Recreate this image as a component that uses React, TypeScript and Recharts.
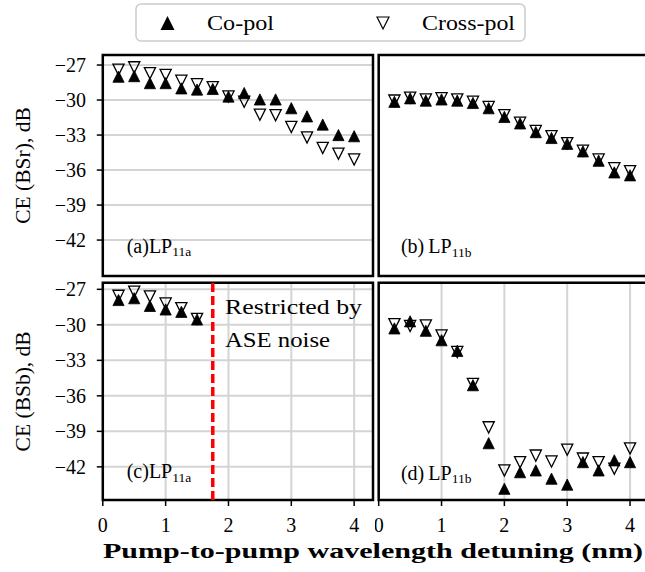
import {
  ScatterChart,
  Scatter,
  XAxis,
  YAxis,
  CartesianGrid,
  ReferenceArea,
  ReferenceLine,
  ReferenceDot,
} from "recharts";

// pump-to-pump wavelength detuning (nm)
const detuning = [0.25, 0.5, 0.75, 1, 1.25, 1.5, 1.75, 2, 2.25, 2.5, 2.75, 3, 3.25, 3.5, 3.75, 4];

// CE (BSr), dB
const bsrLP11aCo = [-28.0, -27.95, -28.55, -28.55, -29.0, -29.1, -29.05, -29.7, -29.4, -29.95, -29.95, -30.7, -31.4, -32.1, -33.0, -33.1];
const bsrLP11aCross = [-27.4, -27.2, -27.7, -27.85, -28.35, -28.65, -28.9, -29.7, -30.15, -31.25, -31.3, -32.3, -33.2, -34.1, -34.6, -35.1];
const bsrLP11bCo = [-30.15, -29.85, -30.05, -29.95, -30.05, -30.25, -30.7, -31.45, -32.0, -32.75, -33.25, -33.75, -34.4, -35.2, -36.2, -36.45];
const bsrLP11bCross = [-30.05, -29.8, -29.95, -29.85, -29.95, -30.15, -30.6, -31.3, -31.95, -32.65, -33.1, -33.7, -34.35, -35.1, -35.85, -36.1];

// CE (BSb), dB
const bsbLP11aCo = [-27.9, -27.75, -28.4, -28.7, -28.9, -29.55];
const bsbLP11aCross = [-27.55, -27.2, -27.6, -28.2, -28.6, -29.5];
const bsbLP11bCo = [-30.3, -29.7, -30.5, -31.3, -32.2, -35.1, -40.0, -43.85, -42.45, -42.3, -43.0, -43.5, -41.6, -42.3, -41.45, -41.6];
const bsbLP11bCross = [-29.95, -30.1, -30.05, -30.9, -32.3, -35.0, -38.66, -42.3, -41.6, -41.05, -41.55, -40.55, -41.3, -41.6, -42.15, -40.45];

const xTicks = [0, 1, 2, 3, 4];
const yTicks = [-42, -39, -36, -33, -30, -27];
const aseLimit = 1.75;

const SERIF = '"Liberation Serif", "Times New Roman", serif';
const X_MAX = 4.3;

const toPoints = (vals: number[]) => vals.map((y, i) => ({ x: detuning[i], y }));
const minus = (v: number) => String(v).replace("-", "\u2212");

function TriUp(props: any) {
  const { cx, cy } = props;
  if (cx == null || cy == null) return null;
  const s = 5.6;
  return (
    <polygon
      points={`${cx},${cy - s} ${cx - s},${cy + s} ${cx + s},${cy + s}`}
      fill="#000"
      stroke="#000"
      strokeWidth={0.8}
    />
  );
}

function TriDown(props: any) {
  const { cx, cy } = props;
  if (cx == null || cy == null) return null;
  const s = 5.6;
  return (
    <polygon
      points={`${cx - s},${cy - s} ${cx + s},${cy - s} ${cx},${cy + s}`}
      fill="none"
      stroke="#000"
      strokeWidth={1.3}
    />
  );
}

function tagShape(letter: string, sub: string, gap: boolean) {
  return (p: any) => (
    <text x={p.cx} y={p.cy} fontFamily={SERIF} fontSize={20} fill="#000">
      ({letter}){gap ? "\u2009" : ""}LP
      <tspan fontSize={13.5} dy={3.5}>
        {sub}
      </tspan>
    </text>
  );
}

interface PanelProps {
  left: number;
  top: number;
  width: number;
  height: number;
  margin: { top: number; right: number; bottom: number; left: number };
  yDomain: [number, number];
  co: number[];
  cross: number[];
  leftCol: boolean;
  bottomRow: boolean;
  yLabel?: string;
  tag: { x: number; y: number; letter: string; sub: string };
  children?: any;
}

function Panel({
  left,
  top,
  width,
  height,
  margin,
  yDomain,
  co,
  cross,
  leftCol,
  bottomRow,
  yLabel,
  tag,
  children,
}: PanelProps) {
  const tickStyle = { fill: "#000", fontSize: 20, fontFamily: SERIF };
  return (
    <div style={{ position: "absolute", left, top }}>
      <ScatterChart width={width} height={height} margin={margin}>
        <CartesianGrid stroke="#d4d4d4" strokeWidth={2} />
        <XAxis
          type="number"
          dataKey="x"
          domain={[0, X_MAX]}
          ticks={xTicks}
          interval={0}
          allowDataOverflow
          axisLine={false}
          tickSize={6}
          tickMargin={12}
          tickLine={{ stroke: "#000", strokeWidth: 1.5 }}
          tick={bottomRow ? tickStyle : false}
          height={bottomRow ? 40 : 14}
        />
        <YAxis
          type="number"
          dataKey="y"
          domain={yDomain}
          ticks={yTicks}
          interval={0}
          allowDataOverflow
          axisLine={false}
          width={leftCol ? 102.8 : 1}
          tickSize={6}
          tickMargin={10.8}
          tickLine={leftCol ? { stroke: "#000", strokeWidth: 1.5 } : false}
          tick={leftCol ? tickStyle : false}
          tickFormatter={minus}
          label={
            leftCol
              ? {
                  value: yLabel,
                  angle: -90,
                  position: "insideLeft",
                  offset: 22,
                  style: { textAnchor: "middle", fontSize: 21.5, fontFamily: SERIF, fill: "#000" },
                }
              : undefined
          }
        />
        {children}
        <ReferenceDot
          x={tag.x}
          y={tag.y}
          r={0}
          ifOverflow="visible"
          shape={tagShape(tag.letter, tag.sub, !leftCol)}
        />
        <Scatter data={toPoints(co)} shape={(p: any) => <TriUp {...p} />} isAnimationActive={false} />
        <Scatter data={toPoints(cross)} shape={(p: any) => <TriDown {...p} />} isAnimationActive={false} />
        <ReferenceArea
          x1={0}
          x2={X_MAX}
          y1={yDomain[0]}
          y2={yDomain[1]}
          fill="none"
          fillOpacity={0}
          stroke="#000"
          strokeWidth={2.5}
          ifOverflow="visible"
        />
      </ScatterChart>
    </div>
  );
}

export default function App() {
  const rowTop: [number, number] = [-45.08, -26.14];
  const rowBottom: [number, number] = [-44.8, -26.44];
  return (
    <div
      style={{
        position: "absolute",
        left: 0,
        top: 0,
        width: 645,
        height: 572,
        overflow: "hidden",
        background: "#fff",
        fontFamily: SERIF,
      }}
    >
      <Panel
        left={0}
        top={40}
        width={380}
        height={250}
        margin={{ top: 15, right: 7, bottom: 0, left: 0 }}
        yDomain={rowTop}
        co={bsrLP11aCo}
        cross={bsrLP11aCross}
        leftCol
        bottomRow={false}
        yLabel="CE (BSr), dB"
        tag={{ x: 0.38, y: -43.09, letter: "a", sub: "11a" }}
      />
      <Panel
        left={375}
        top={40}
        width={280}
        height={250}
        margin={{ top: 15, right: 6.1, bottom: 0, left: 2.7 }}
        yDomain={rowTop}
        co={bsrLP11bCo}
        cross={bsrLP11bCross}
        leftCol={false}
        bottomRow={false}
        tag={{ x: 0.354, y: -43.14, letter: "b", sub: "11b" }}
      />
      <Panel
        left={0}
        top={270}
        width={380}
        height={302}
        margin={{ top: 12.7, right: 7, bottom: 32, left: 0 }}
        yDomain={rowBottom}
        co={bsbLP11aCo}
        cross={bsbLP11aCross}
        leftCol
        bottomRow
        yLabel="CE (BSb), dB"
        tag={{ x: 0.38, y: -42.98, letter: "c", sub: "11a" }}
      >
        <ReferenceLine x={aseLimit} stroke="#ff0000" strokeWidth={3.5} strokeDasharray="9 4" />
        <ReferenceDot
          x={1.945}
          y={-29.09}
          r={0}
          ifOverflow="visible"
          shape={(p: any) => (
            <g fontFamily={SERIF} fontSize={21} fill="#000">
              <text x={p.cx} y={p.cy} textLength={137} lengthAdjust="spacingAndGlyphs">
                Restricted by
              </text>
              <text x={p.cx} y={p.cy + 33.3} textLength={105} lengthAdjust="spacingAndGlyphs">
                ASE noise
              </text>
            </g>
          )}
        />
      </Panel>
      <Panel
        left={375}
        top={270}
        width={280}
        height={302}
        margin={{ top: 12.7, right: 6.1, bottom: 32, left: 2.7 }}
        yDomain={rowBottom}
        co={bsbLP11bCo}
        cross={bsbLP11bCross}
        leftCol={false}
        bottomRow
        tag={{ x: 0.354, y: -43.07, letter: "d", sub: "11b" }}
      />

      <svg width={645} height={46} style={{ position: "absolute", left: 0, top: 0 }}>
        <rect x={136} y={4} width={389} height={37} rx={5} fill="#fff" stroke="#cccccc" strokeWidth={1.5} />
        <polygon points="167.5,16 160.5,30 174.5,30" fill="#000" />
        <text x={207} y={30} fontFamily={SERIF} fontSize={20} fill="#000" textLength={67} lengthAdjust="spacingAndGlyphs">
          Co-pol
        </text>
        <polygon points="377,17 389,17 383,29" fill="none" stroke="#000" strokeWidth={1.2} />
        <text x={422} y={30} fontFamily={SERIF} fontSize={20} fill="#000" textLength={93} lengthAdjust="spacingAndGlyphs">
          Cross-pol
        </text>
      </svg>

      <svg width={645} height={32} style={{ position: "absolute", left: 0, top: 540 }}>
        <text
          x={103}
          y={18}
          fontFamily={SERIF}
          fontWeight="bold"
          fontSize={21}
          fill="#000"
          textLength={540}
          lengthAdjust="spacingAndGlyphs"
        >
          Pump-to-pump wavelength detuning (nm)
        </text>
      </svg>
    </div>
  );
}
